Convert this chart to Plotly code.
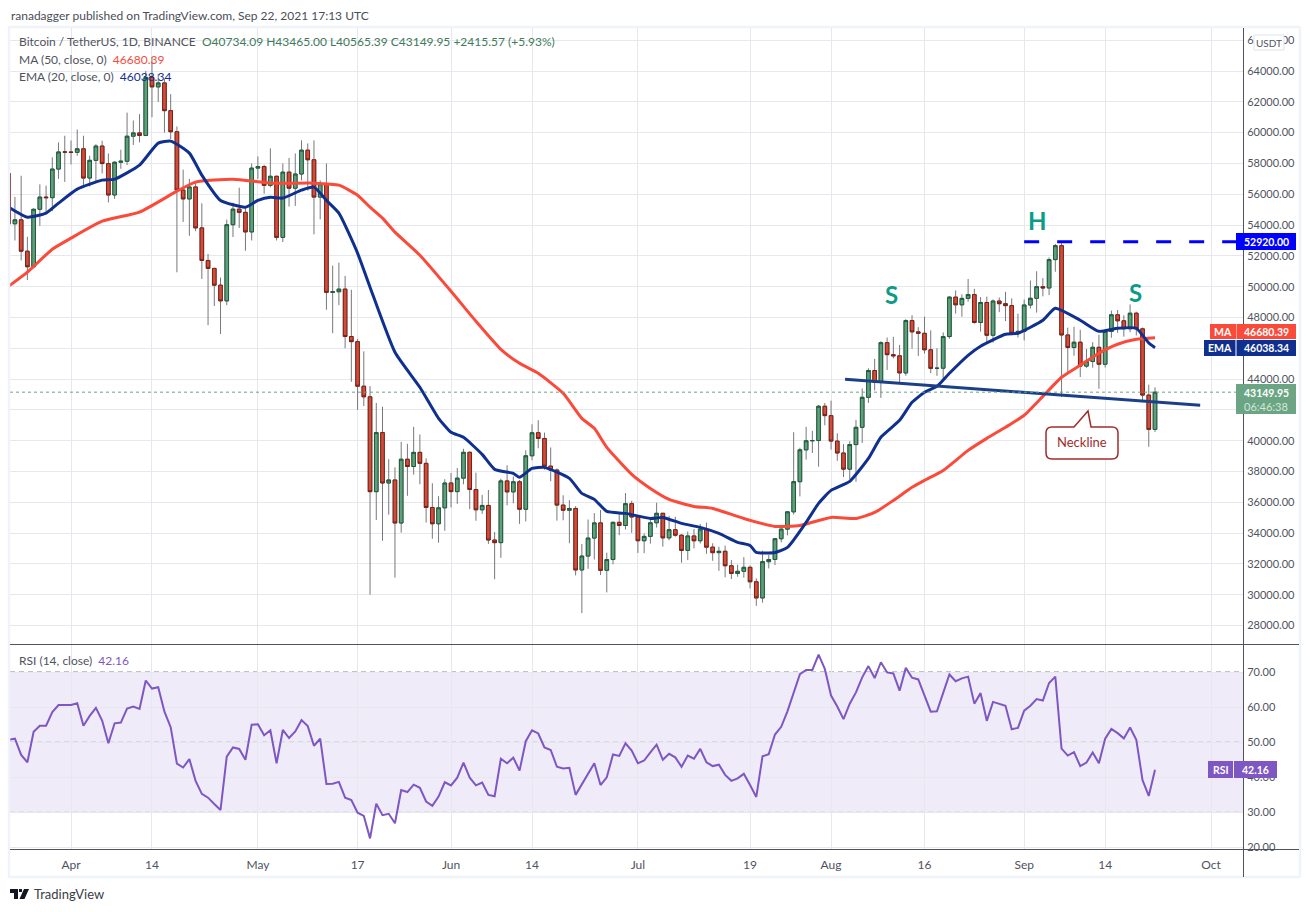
import pandas as pd
import plotly.graph_objects as go
from plotly.subplots import make_subplots

days = pd.date_range("2021-03-22", "2021-09-22").strftime("%Y-%m-%d").tolist()

opens = [57351, 54083, 54340, 52303, 51293, 55025, 55817, 55777, 57635, 58746,
         58740, 58720, 58950, 57051, 58202, 59129, 57991, 55953, 58077, 58142, 59769, 59984, 59817, 63588, 62971, 63229, 61427, 60058, 56274, 55696, 56473, 53815, 51701, 51187, 50097, 49077, 54021, 55033, 54824, 53555,
         57697, 57797, 56578, 57169, 53200, 57436, 56393, 57314, 58862, 58240, 55816, 56670, 49631, 49670, 49841, 46762, 46431, 43538, 42849, 36690, 40526, 37252, 37449, 34655, 38796, 38324, 39241, 38529, 35663, 34605, 35641,
         37253, 36693, 37568, 39246, 36829, 35513, 35796, 33552, 33380, 37388, 36675, 37331, 35546, 39020, 40516, 40144, 38349, 38092, 35819, 35483, 35600, 31608, 32509, 33678, 34663, 31584, 32283, 34700, 34494, 35911,
         35045, 33504, 33786, 34669, 35286, 33690, 34220, 33863, 32875, 33815, 33502, 34258, 33086, 32729, 32820, 31880, 31383, 31520, 31778, 30839, 29790, 32144, 32287, 33634, 34258, 35381, 37337, 39406, 39995, 40008, 42235,
         41626, 39974, 39201, 38152, 39747, 40869, 42816, 44555, 43798, 46365, 45585, 45511, 44399, 47800, 47065, 46973, 45901, 44695, 44705, 46760, 49322, 48821, 49239, 49488, 47674, 48973, 46843, 49069, 48895, 48767, 46982,
         47100, 48810, 49246, 49999, 49915, 51756, 52663, 46863, 46048, 46395, 44842, 45144, 46063, 44963, 47092, 48176, 47783, 47267, 48278, 47260, 42961, 40734.09]
closes = [54083, 54340, 52303, 51293, 55025, 55817, 55777, 57635, 58746, 58740,
          58720, 58950, 57051, 58202, 59129, 57991, 55953, 58077, 58142, 59769, 59984, 59817, 63588, 62971, 63229, 61427, 60058, 56274, 55696, 56473, 53815, 51701, 51187, 50097, 49077, 54021, 55033, 54824, 53555, 57697,
          57797, 56578, 57169, 53200, 57436, 56393, 57314, 58862, 58240, 55816, 56670, 49631, 49670, 49841, 46762, 46431, 43538, 42849, 36690, 40526, 37252, 37449, 34655, 38796, 38324, 39241, 38529, 35663, 34605, 35641, 37253,
          36693, 37568, 39246, 36829, 35513, 35796, 33552, 33380, 37388, 36675, 37331, 35546, 39020, 40516, 40144, 38349, 38092, 35819, 35483, 35600, 31608, 32509, 33678, 34663, 31584, 32283, 34700, 34494, 35911, 35045,
          33504, 33786, 34669, 35286, 33690, 34220, 33863, 32875, 33815, 33502, 34258, 33086, 32729, 32820, 31880, 31383, 31520, 31778, 30839, 29790, 32144, 32287, 33634, 34258, 35381, 37337, 39406, 39995, 40008, 42235, 41626,
          39974, 39201, 38152, 39747, 40869, 42816, 44555, 43798, 46365, 45585, 45511, 44399, 47800, 47065, 46973, 45901, 44695, 44705, 46760, 49322, 48821, 49239, 49488, 47674, 48973, 46843, 49069, 48895, 48767, 46982, 47100,
          48810, 49246, 49999, 49915, 51756, 52663, 46863, 46048, 46395, 44842, 45144, 46063, 44963, 47092, 48176, 47783, 47267, 48278, 47260, 42961, 40734.09, 43149.95]
highs = [58400, 55830, 57200, 53240, 55080, 56640, 56559, 58400, 59368, 59800,
         59490, 60200, 59800, 58500, 59250, 59474, 58650, 58153, 58894, 61300, 60790, 61200, 64000, 64854, 63800, 63500, 62500, 60400, 57600, 57000, 56757, 55410, 52120, 51200, 50591, 54356, 55450, 56428, 55200, 58000,
         58458, 57911, 58981, 57200, 58000, 58360, 58650, 59500, 59300, 59500, 56900, 58000, 51367, 51560, 50700, 49800, 46600, 45800, 43546, 42451, 42200, 38800, 38270, 39920, 39800, 40900, 40400, 38856, 37234, 36400, 37500,
         37900, 38225, 39476, 39289, 37925, 36481, 36800, 34068, 37534, 38400, 37680, 37450, 39380, 41064, 41330, 40527, 39559, 38200, 36457, 36138, 35750, 33298, 34881, 35298, 35500, 32730, 34749, 35297, 36600, 36100,
         35035, 33977, 34945, 35967, 35293, 35118, 35059, 33929, 34100, 34262, 34592, 34681, 33340, 33114, 33185, 32249, 31949, 32438, 31899, 31063, 32858, 32591, 33650, 34500, 35398, 40550, 39542, 40900, 40640, 42316, 42448,
         42599, 40480, 39780, 39969, 41350, 43392, 44700, 45310, 46454, 46700, 46743, 46218, 47886, 48144, 47372, 48053, 47160, 46000, 47033, 49382, 49757, 49500, 50500, 49860, 49320, 49357, 49171, 49300, 49667, 49242, 48246,
         49156, 50400, 51000, 50558, 51900, 52780, 52920, 47340, 47399, 47199, 45959, 46400, 46876, 47250, 48450, 48486, 48144, 48843, 48372, 47347, 43639, 43465]
lows = [53650, 53000, 51700, 50427, 51250, 53950, 54870, 54900, 57000, 56800,
        57935, 58500, 56500, 56500, 56800, 57350, 55473, 55700, 57654, 57900, 59200, 59369, 59769, 61000, 62000, 60000, 59580, 50931, 54200, 53300, 53600, 50500, 47500, 48750, 46930, 48800, 53222, 53813, 52330, 53000,
        57000, 56035, 56450, 53000, 52900, 55200, 55241, 56900, 56235, 53400, 54370, 48500, 46980, 48800, 46000, 43825, 42000, 42250, 30000, 34850, 33500, 35200, 31111, 34031, 36419, 37800, 37170, 34684, 33632, 33379, 34153,
        35666, 35900, 37170, 35555, 34800, 35250, 33300, 31000, 32396, 35800, 35936, 34600, 34757, 38733, 39506, 38116, 37365, 34810, 34833, 33336, 31251, 28805, 31683, 32286, 31275, 30151, 31973, 33862, 34231, 34017,
        32711, 32699, 33316, 34357, 33125, 33532, 33767, 32077, 32261, 33004, 33327, 32658, 32202, 31550, 31133, 31020, 31164, 31108, 30407, 29278, 29482, 31708, 31924, 33401, 33851, 35205, 36383, 38772, 39200, 38313, 41000,
        39422, 38690, 37642, 37508, 37332, 39853, 42450, 43261, 42780, 44589, 45341, 43770, 44217, 45971, 45500, 45660, 44376, 44210, 43927, 46622, 48250, 48050, 49029, 47600, 47080, 46315, 46364, 48345, 47762, 46853, 46700,
        46512, 48584, 48316, 49370, 49450, 50969, 42843, 44412, 45513, 44132, 44730, 44742, 43370, 44750, 46682, 47005, 46750, 47044, 46829, 42500, 39600, 40565.39]
rsi = [50.7, 51, 46.4, 44.3, 53, 54.7, 54.7, 58.6, 60.6, 60.6,
       60.6, 61.1, 54.7, 57.5, 59.8, 56.2, 49.7, 55.4, 55.6, 59.6, 60.2, 59.5, 67.6, 65.3, 65.7, 58.7, 54.3, 43.9, 42.8, 45.2, 39, 35.3, 34.2, 32.4, 30.7, 45.9, 48.5, 48.1, 45, 55,
       55.1, 52, 53.4, 44, 53.5, 51.2, 53.1, 56.3, 54.6, 49, 51, 38.1, 38.2, 38.7, 34.2, 33.5, 29.9, 29, 22.6, 32.5, 29.2, 29.6, 26.9, 36.4, 35.8, 37.9, 37, 33.1, 31.9, 34.5, 38.6,
       37.7, 39.9, 44.2, 39.9, 37.7, 38.5, 35, 34.6, 45.3, 44, 45.6, 41.9, 50.3, 53.4, 52.5, 48.5, 47.8, 43, 42.5, 42.7, 35, 38, 41.1, 44, 37.8, 40, 46.5, 46.1, 49.7, 47.6,
       44, 44.8, 47.1, 49.3, 45, 46.7, 45.7, 43, 46.2, 45.3, 48.1, 44.3, 43.2, 43.6, 40.7, 39, 39.7, 41, 37.8, 34.4, 46, 46.6, 52.2, 54.4, 58.8, 64, 69.4, 70.6, 70.6, 75, 70.9,
       63.3, 60.2, 56.6, 61, 64.2, 68.5, 71.7, 68.3, 72.8, 69.9, 69.6, 64.7, 71.2, 68.4, 67.9, 63.2, 58.7, 58.8, 64, 69.3, 67.4, 68.2, 68.7, 61, 64, 56.1, 61.5, 61, 60.4, 53.7, 54.1,
       59, 60.4, 62.3, 61.9, 66.9, 68.7, 48.2, 46.2, 47.2, 43.2, 44.2, 47.1, 44, 51, 53.8, 52.6, 51.1, 54.2, 50.7, 39.2, 34.7, 42.16]

ema_days = ["2021-03-22", "2021-03-25", "2021-03-28", "2021-03-30", "2021-04-02", "2021-04-06", "2021-04-08", "2021-04-12", "2021-04-15", "2021-04-17",
            "2021-04-20", "2021-04-22", "2021-04-25", "2021-04-29", "2021-05-01", "2021-05-03", "2021-05-05", "2021-05-08", "2021-05-10", "2021-05-12", "2021-05-14",
            "2021-05-17", "2021-05-19", "2021-05-23", "2021-05-27", "2021-05-30", "2021-06-01", "2021-06-03", "2021-06-06", "2021-06-08", "2021-06-11", "2021-06-12",
            "2021-06-14", "2021-06-16", "2021-06-20", "2021-06-22", "2021-06-24", "2021-06-26", "2021-06-29", "2021-07-03", "2021-07-05", "2021-07-08", "2021-07-11",
            "2021-07-14", "2021-07-17", "2021-07-19", "2021-07-20", "2021-07-23", "2021-07-25", "2021-07-28", "2021-07-30", "2021-08-01", "2021-08-04", "2021-08-07",
            "2021-08-09", "2021-08-12", "2021-08-14", "2021-08-16", "2021-08-18", "2021-08-20", "2021-08-23", "2021-08-25", "2021-08-29", "2021-08-31", "2021-09-04",
            "2021-09-06", "2021-09-10", "2021-09-13", "2021-09-16", "2021-09-19", "2021-09-20", "2021-09-21", "2021-09-22"]
ema20 = [55163, 54513, 54773, 55422, 56332, 56917, 56982, 57892, 59321, 59451,
         58672, 57242, 55600, 55163, 55600, 55800, 55750, 56267, 56460, 55600, 54773,
         52174, 49964, 45740, 43466, 41452, 40542, 40217, 39113, 38138, 37878, 37618,
         38203, 38268, 37553, 36578, 36190, 35410, 35280, 34954, 35019, 34630, 34370,
         33980, 33400, 33200, 32745, 32745, 33070, 34700, 35930, 36775, 37360, 38850,
         40220, 41320, 42490, 43140, 43530, 44380, 45545, 46130, 46910, 46975, 47820,
         48600, 47820, 47100, 47300, 47300, 46840, 46340, 46038.34]

ma_days = ["2021-03-22", "2021-03-25", "2021-03-29", "2021-04-01", "2021-04-06", "2021-04-12", "2021-04-18", "2021-04-21", "2021-04-27", "2021-05-03", "2021-05-10",
           "2021-05-14", "2021-05-17", "2021-05-19", "2021-05-21", "2021-05-23", "2021-05-27", "2021-06-01", "2021-06-05", "2021-06-09", "2021-06-12", "2021-06-15",
           "2021-06-19", "2021-06-22", "2021-06-24", "2021-06-26", "2021-06-30", "2021-07-03", "2021-07-06", "2021-07-10", "2021-07-13", "2021-07-18", "2021-07-23",
           "2021-07-27", "2021-08-01", "2021-08-05", "2021-08-08", "2021-08-11", "2021-08-14", "2021-08-16", "2021-08-19", "2021-08-23", "2021-08-26", "2021-08-29",
           "2021-09-01", "2021-09-04", "2021-09-07", "2021-09-10", "2021-09-13", "2021-09-16", "2021-09-19", "2021-09-22"]
ma50 = [50030, 50939, 52433, 53150, 54250, 54840, 56200, 56790, 56980, 56720, 56720,
        56590, 55940, 55160, 54450, 53540, 52040, 49700, 47750, 45930, 45025, 44375,
        43075, 41450, 40800, 39570, 37810, 36900, 36190, 35730, 35600, 34950, 34430,
        34500, 35020, 34950, 35340, 36120, 36970, 37420, 38070, 39370, 40150, 40870,
        41650, 42880, 44120, 44900, 45680, 46260, 46580, 46680.39]

neck_days = ["2021-08-03 06:00", "2021-09-29 06:00"]
neck_vals = [43986, 42297]
resist_days = ["2021-09-01", "2021-10-07"]
resist_vals = [52920, 52920]

tick_days = ["2021-04-01", "2021-04-14", "2021-05-01", "2021-05-17", "2021-06-01", "2021-06-14", "2021-07-01",
             "2021-07-19", "2021-08-01", "2021-08-16", "2021-09-01", "2021-09-14", "2021-10-01"]
tick_names = ["Apr", "14", "May", "17", "Jun", "14", "Jul", "19", "Aug", "16", "Sep", "14", "Oct"]
price_ticks = list(range(28000, 68000, 2000))
# 42000 and 46000 sit behind the price and EMA badges
price_names = ["" if v in (42000, 46000) else f"{v}.00" for v in price_ticks]
rsi_ticks = [20, 30, 40, 50, 60, 70]

assert len(days) == len(opens) == len(highs) == len(lows) == len(closes) == len(rsi)

W, H = 1310, 912
L, R, T, B = 10, 67, 28, 63
SPLIT = 644.5

FONT = "Lato"
GRAY = "#50535e"
UP = "#5f9f7b"
UP_EDGE = "#1d5c3a"
DOWN = "#d24c3a"
DOWN_EDGE = "#7b2015"
WICK = "#77787c"
EMA_BLUE = "#10308f"
MA_RED = "#fa4a3a"
PURPLE = "#7e57c2"
GRID = "#e6e8ee"
TEAL = "#0a9c87"
NECK_RED = "#a02c2c"
BOX_GREEN = "#6ba583"


def px(x):
    return (x - L) / (W - L - R)


def py(y):
    return 1 - (y - T) / (H - T - B)


def rect(x0, y0, x1, y1, color, line=None):
    return dict(type="rect", xref="paper", yref="paper", x0=px(x0), x1=px(x1), y0=py(y0), y1=py(y1),
                fillcolor=color, line=dict(width=1 if line else 0, color=line or color), layer="above")


def seg(x0, y0, x1, y1, color=GRAY, width=1):
    return dict(type="line", xref="paper", yref="paper", x0=px(x0), x1=px(x1), y0=py(y0), y1=py(y1),
                line=dict(width=width, color=color), layer="above")


def blob(points, color, line=None, width=0):
    # closed path, points are pixels of the page
    d = "M" + " L".join(f"{px(a):.5f},{py(b):.5f}" for a, b in points) + " Z"
    return dict(type="path", xref="paper", yref="paper", path=d, fillcolor=color,
                line=dict(width=width, color=line or color), layer="above")


def label(x, y, text, color=GRAY, size=12, anchor="left"):
    fig.add_annotation(xref="paper", yref="paper", x=px(x), y=py(y), text=text, showarrow=False,
                       xanchor=anchor, yanchor="middle", align=anchor, borderpad=0,
                       font=dict(family=FONT, size=size, color=color))


fig = make_subplots(rows=2, cols=1, shared_xaxes=True, vertical_spacing=0,
                    row_heights=[SPLIT - T, H - B - SPLIT])

fig.add_trace(go.Scatter(x=ma_days, y=ma50, mode="lines", line=dict(color=MA_RED, width=3, shape="spline", smoothing=0.5)), row=1, col=1)
fig.add_trace(go.Scatter(x=ema_days, y=ema20, mode="lines", line=dict(color=EMA_BLUE, width=3, shape="spline", smoothing=0.5)), row=1, col=1)

# wicks first in grey, then the bodies with their darker edge on top
fig.add_trace(go.Candlestick(x=days, open=opens, high=highs, low=lows, close=closes, whiskerwidth=0,
                             increasing=dict(line=dict(color=WICK, width=1), fillcolor=WICK),
                             decreasing=dict(line=dict(color=WICK, width=1), fillcolor=WICK)), row=1, col=1)
body_top = [max(a, b) for a, b in zip(opens, closes)]
body_low = [min(a, b) for a, b in zip(opens, closes)]
fig.add_trace(go.Candlestick(x=days, open=opens, high=body_top, low=body_low, close=closes, whiskerwidth=0,
                             increasing=dict(line=dict(color=UP_EDGE, width=1), fillcolor=UP),
                             decreasing=dict(line=dict(color=DOWN_EDGE, width=1), fillcolor=DOWN)), row=1, col=1)

fig.add_trace(go.Scatter(x=neck_days, y=neck_vals, mode="lines", line=dict(color="#1c4088", width=3)), row=1, col=1)
fig.add_trace(go.Scatter(x=resist_days, y=resist_vals, mode="lines", line=dict(color="#0000ff", width=3, dash="15px,18px")), row=1, col=1)

fig.add_trace(go.Scatter(x=days, y=rsi, mode="lines", line=dict(color=PURPLE, width=2)), row=2, col=1)

fig.add_hline(y=closes[-1], line=dict(color=BOX_GREEN, width=1, dash="dot"), row=1, col=1)
fig.add_hrect(y0=30, y1=70, fillcolor=PURPLE, opacity=0.12, line_width=0, layer="below", row=2, col=1)
for level, shade in [(70, "#6b6e7a"), (50, "#a4a4b0"), (30, "#6b6e7a")]:
    fig.add_hline(y=level, line=dict(color=shade, width=1, dash="5px,4px"), layer="below", row=2, col=1)

fig.update_xaxes(range=["2021-03-22 05:00", "2021-10-06 03:00"], tickvals=tick_days, ticktext=tick_names,
                 showgrid=True, gridcolor=GRID, gridwidth=1, zeroline=False, showline=False,
                 ticks="outside", ticklen=5, tickcolor="rgba(0,0,0,0)",
                 rangeslider_visible=False, tickfont=dict(family=FONT, size=12, color=GRAY), tickangle=0)
fig.update_yaxes(side="right", showgrid=True, gridcolor=GRID, gridwidth=1, zeroline=False, showline=False,
                 ticks="outside", ticklen=1, tickcolor="rgba(0,0,0,0)", tickfont=dict(family=FONT, size=11, color=GRAY))
fig.update_yaxes(range=[26767, 66794], tickvals=price_ticks, ticktext=price_names, row=1, col=1)
fig.update_yaxes(range=[19.57, 77.86], tickvals=rsi_ticks, tickformat=".2f", row=2, col=1)

fig.update_layout(width=W, height=H, margin=dict(l=L, r=R, t=T, b=B), autosize=False,
                  paper_bgcolor="white", plot_bgcolor="white", showlegend=False, dragmode=False,
                  boxgap=0.42, boxgroupgap=0, font=dict(family=FONT, color=GRAY))

shapes = list(fig.layout.shapes)
FRAME = "#f0f3fa"
shapes += [seg(8, 27, 1300, 27, FRAME, 2.5), seg(9, 27, 9, 877, FRAME, 2.5), seg(8, 877, 1300, 877, FRAME, 2.5), seg(1300, 27, 1300, 877, FRAME, 2.5)]
shapes += [seg(10, SPLIT, 1299, SPLIT), seg(10, 849.5, 1299, 849.5), seg(1243.5, 28, 1243.5, 877)]
# price scale badges
shapes += [rect(1254, 35, 1284, 50, "white", "#e0e3eb"),
           rect(1236, 233, 1296, 250, "#0000ff"),
           rect(1210, 324, 1236, 339, MA_RED), rect(1236.5, 324, 1296, 339, MA_RED),
           rect(1204, 340, 1235.5, 356, EMA_BLUE), rect(1236.5, 340, 1296, 356, EMA_BLUE),
           rect(1236, 384, 1296, 414, BOX_GREEN),
           rect(1208, 761, 1233, 778, PURPLE), rect(1234, 761, 1277, 778, PURPLE)]
# neckline callout
r = 6
call = (f"M{px(1046+r):.5f},{py(427):.5f} L{px(1074):.5f},{py(427):.5f} L{px(1088):.5f},{py(411):.5f} L{px(1091):.5f},{py(427):.5f} "
        f"L{px(1118-r):.5f},{py(427):.5f} Q{px(1118):.5f},{py(427):.5f} {px(1118):.5f},{py(427+r):.5f} "
        f"L{px(1118):.5f},{py(459-r):.5f} Q{px(1118):.5f},{py(459):.5f} {px(1118-r):.5f},{py(459):.5f} "
        f"L{px(1046+r):.5f},{py(459):.5f} Q{px(1046):.5f},{py(459):.5f} {px(1046):.5f},{py(459-r):.5f} "
        f"L{px(1046):.5f},{py(427+r):.5f} Q{px(1046):.5f},{py(427):.5f} {px(1046+r):.5f},{py(427):.5f} Z")
shapes.append(dict(type="path", xref="paper", yref="paper", path=call, fillcolor="white",
                   line=dict(width=1.5, color=NECK_RED), layer="above"))
# TradingView logo
shapes += [blob([(10, 889), (18, 889), (18, 899), (14, 899), (14, 893), (10, 893)], "#131722"),
           blob([(19, 889), (22, 889), (22, 892), (19, 892)], "#131722"),
           blob([(24, 889), (29, 889), (24.5, 899), (19.5, 899)], "#131722")]
fig.update_layout(shapes=shapes)

OHLC = "#3f7a5c"
label(10, 15, "ranadagger published on TradingView.com, Sep 22, 2021 17:13 UTC", "#4a4e57", 12)
label(18, 42, f"Bitcoin / TetherUS, 1D, BINANCE  <span style='color:{OHLC}'>O40734.09 H43465.00 L40565.39 C43149.95 +2415.57 (+5.93%)</span>", GRAY, 12)
label(18, 59, f"MA (50, close, 0)  <span style='color:{MA_RED}'>46680.39</span>", GRAY, 12)
label(18, 76, f"EMA (20, close, 0)  <span style='color:{EMA_BLUE}'>46038.34</span>", GRAY, 12)
label(18, 660, f"RSI (14, close)  <span style='color:{PURPLE}'>42.16</span>", GRAY, 12)
label(33, 894, "TradingView", "#3a3d46", 13)

label(1037, 221, "<b>H</b>", TEAL, 24, "center")
label(891, 294, "<b>S</b>", TEAL, 24, "center")
label(1135, 292, "<b>S</b>", TEAL, 24, "center")
label(1082, 442, "Neckline", NECK_RED, 13, "center")

label(1269, 42.5, "USDT", GRAY, 10, "center")
label(1266, 241.5, "<b>52920.00</b>", "white", 10.5, "center")
label(1223, 332, "<b>MA</b>", "white", 10.5, "center")
label(1266, 332, "<b>46680.39</b>", "white", 10.5, "center")
label(1220, 348, "<b>EMA</b>", "white", 10.5, "center")
label(1266, 348, "<b>46038.34</b>", "white", 10.5, "center")
label(1266, 393, "<b>43149.95</b>", "white", 10.5, "center")
label(1266, 406, "06:46:38", "#d5e6dc", 11, "center")
label(1220.5, 769.5, "<b>RSI</b>", "white", 10.5, "center")
label(1255.5, 769.5, "<b>42.16</b>", "white", 10.5, "center")

fig.write_html("out.html", config=dict(displayModeBar=False),
               post_script="document.body.style.margin='0';document.body.style.overflow='hidden';")
